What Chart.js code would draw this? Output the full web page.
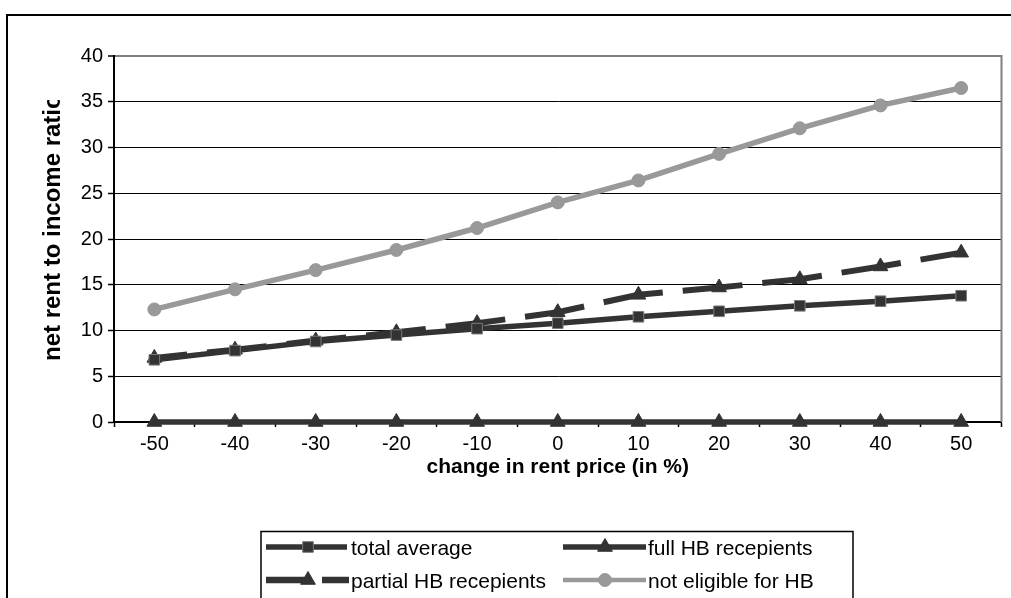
<!DOCTYPE html>
<html>
<head>
<meta charset="utf-8">
<script src="https://cdn.jsdelivr.net/npm/chart.js@4.4.0/dist/chart.umd.min.js"></script>
<style>
  html, body { margin: 0; padding: 0; background: #ffffff; }
  canvas { display: block; }
</style>
</head>
<body>
<canvas id="rentChart" width="1011" height="598"></canvas>
<script>
// Categories: change in rent price (%)
const rentChange = ['-50', '-40', '-30', '-20', '-10', '0', '10', '20', '30', '40', '50'];

// Net rent to income ratio per household group
const totalAverage = [6.8, 7.8, 8.8, 9.5, 10.2, 10.8, 11.5, 12.1, 12.7, 13.2, 13.8];
const fullHB       = [0, 0, 0, 0, 0, 0, 0, 0, 0, 0, 0];
const partialHB    = [7.0, 7.9, 8.9, 9.8, 10.8, 12.0, 13.9, 14.7, 15.6, 17.0, 18.5];
const notEligible  = [12.3, 14.5, 16.6, 18.8, 21.2, 24.0, 26.4, 29.3, 32.1, 34.6, 36.5];

const seriesNames = ['total average', 'full HB recepients', 'partial HB recepients', 'not eligible for HB'];
const yTickValues = [0, 5, 10, 15, 20, 25, 30, 35, 40];
const xTitle = 'change in rent price (in %)';
const yTitle = 'net rent to income ratio';

const DARK = '#333333';
const LIGHT = '#999999';
const FONT = "'Liberation Sans', Arial, sans-serif";

// Outer frame and grey plot-area border
const framePlugin = {
  id: 'frame',
  beforeDraw(chart) {
    const ctx = chart.ctx;
    ctx.save();
    ctx.fillStyle = '#ffffff';
    ctx.fillRect(0, 0, chart.width, chart.height);
    ctx.strokeStyle = '#000000';
    ctx.lineWidth = 2;
    ctx.beginPath();
    ctx.moveTo(7, chart.height + 2);
    ctx.lineTo(7, 15);
    ctx.lineTo(chart.width + 2, 15);
    ctx.stroke();
    ctx.restore();
  },
  beforeDatasetsDraw(chart) {
    const { ctx, chartArea: a } = chart;
    ctx.save();
    ctx.strokeStyle = '#808080';
    ctx.lineWidth = 2;
    ctx.beginPath();
    ctx.moveTo(a.left + 1, a.top);
    ctx.lineTo(a.right, a.top);
    ctx.lineTo(a.right, a.bottom);
    ctx.stroke();
    ctx.restore();
  }
};

// Axis titles and boxed legend
const annotatePlugin = {
  id: 'annotate',
  afterDraw(chart) {
    const ctx = chart.ctx;
    const a = chart.chartArea;
    ctx.save();

    // x-axis title
    ctx.fillStyle = '#000000';
    ctx.font = 'bold 21px ' + FONT;
    ctx.textAlign = 'center';
    ctx.textBaseline = 'middle';
    ctx.fillText(xTitle, (a.left + a.right) / 2, 467);

    // y-axis title (runs out of room at the top and is cut)
    ctx.save();
    ctx.beginPath();
    ctx.rect(10, 100, 90, 400);
    ctx.clip();
    ctx.translate(53, 361);
    ctx.rotate(-Math.PI / 2);
    ctx.font = 'bold 24px ' + FONT;
    ctx.textAlign = 'left';
    ctx.textBaseline = 'middle';
    ctx.fillText(yTitle, 0, 0);
    ctx.restore();

    // legend box
    ctx.strokeStyle = '#000000';
    ctx.lineWidth = 1.5;
    ctx.strokeRect(261, 531.5, 592, 80);

    const row1 = 547, row2 = 580;
    const seg = (x1, x2, y, color, w) => {
      ctx.strokeStyle = color;
      ctx.lineWidth = w;
      ctx.lineCap = 'butt';
      ctx.beginPath();
      ctx.moveTo(x1, y);
      ctx.lineTo(x2, y);
      ctx.stroke();
    };
    const mark = (style, r, x, y, fill, border, bw) => {
      ctx.fillStyle = fill;
      ctx.strokeStyle = border;
      ctx.lineWidth = bw;
      Chart.helpers.drawPoint(ctx, { pointStyle: style, radius: r, rotation: 0, borderWidth: bw }, x, y);
    };

    // total average
    seg(266, 347, row1, DARK, 5.5);
    mark('rect', 7.5, 308, row1, DARK, '#7a7a7a', 1);
    // full HB recepients
    seg(563, 646, row1, DARK, 5.5);
    mark('triangle', 8.5, 605, row1, DARK, DARK, 1);
    // partial HB recepients (dashed)
    seg(266, 305, row2, DARK, 6.5);
    seg(322, 349, row2, DARK, 6.5);
    mark('triangle', 8.5, 308, row2, DARK, DARK, 1);
    // not eligible for HB
    seg(563, 646, row2, LIGHT, 4.5);
    mark('circle', 6.5, 605, row2, LIGHT, LIGHT, 1);

    ctx.fillStyle = '#000000';
    ctx.font = '21px ' + FONT;
    ctx.textAlign = 'left';
    ctx.textBaseline = 'middle';
    ctx.fillText(seriesNames[0], 351, row1 + 2);
    ctx.fillText(seriesNames[1], 648, row1 + 2);
    ctx.fillText(seriesNames[2], 351, row2 + 2);
    ctx.fillText(seriesNames[3], 648, row2 + 2);

    ctx.restore();
  }
};

new Chart(document.getElementById('rentChart'), {
  type: 'line',
  data: {
    labels: rentChange,
    datasets: [
      {
        label: seriesNames[0],
        data: totalAverage,
        borderColor: DARK,
        borderWidth: 5.5,
        pointStyle: 'rect',
        pointRadius: 7.5,
        pointBackgroundColor: DARK,
        pointBorderColor: '#7a7a7a',
        pointBorderWidth: 1,
        tension: 0,
        clip: false
      },
      {
        label: seriesNames[1],
        data: fullHB,
        borderColor: DARK,
        borderWidth: 5.5,
        pointStyle: 'triangle',
        pointRadius: 8.5,
        pointBackgroundColor: DARK,
        pointBorderColor: DARK,
        pointBorderWidth: 1,
        tension: 0,
        clip: false
      },
      {
        label: seriesNames[2],
        data: partialHB,
        borderColor: DARK,
        borderWidth: 6,
        borderDash: [60, 20],
        borderDashOffset: 27,
        pointStyle: 'triangle',
        pointRadius: 8.5,
        pointBackgroundColor: DARK,
        pointBorderColor: DARK,
        pointBorderWidth: 1,
        tension: 0,
        clip: false
      },
      {
        label: seriesNames[3],
        data: notEligible,
        borderColor: LIGHT,
        borderWidth: 5.5,
        pointStyle: 'circle',
        pointRadius: 6.5,
        pointBackgroundColor: LIGHT,
        pointBorderColor: LIGHT,
        pointBorderWidth: 1,
        tension: 0,
        clip: false
      }
    ]
  },
  options: {
    responsive: false,
    animation: false,
    events: [],
    layout: { padding: { left: 0, top: 56, right: 8, bottom: 0 } },
    plugins: {
      legend: { display: false },
      title: { display: false },
      tooltip: { enabled: false }
    },
    scales: {
      x: {
        type: 'category',
        offset: true,
        afterFit(scale) { scale.height = 176; },
        grid: {
          offset: true,
          drawOnChartArea: false,
          drawTicks: true,
          tickLength: 5,
          tickColor: '#000000',
          tickWidth: 1.5
        },
        border: { display: true, color: '#000000', width: 2 },
        ticks: {
          color: '#000000',
          font: { family: FONT, size: 20 },
          padding: 5,
          maxRotation: 0,
          autoSkip: false
        }
      },
      y: {
        min: 0,
        max: 40,
        afterFit(scale) { scale.width = 114; },
        afterBuildTicks(scale) { scale.ticks = yTickValues.map(v => ({ value: v })); },
        grid: {
          color: (c) => (c.tick && c.tick.value === 40 ? '#808080' : '#000000'),
          lineWidth: (c) => (c.tick && c.tick.value === 40 ? 2 : 1),
          drawTicks: true,
          tickLength: 6,
          tickColor: '#000000',
          tickWidth: 1.5
        },
        border: { display: true, color: '#000000', width: 2 },
        ticks: {
          color: '#000000',
          font: { family: FONT, size: 20 },
          padding: 5
        }
      }
    }
  },
  plugins: [framePlugin, annotatePlugin]
});
</script>
</body>
</html>
